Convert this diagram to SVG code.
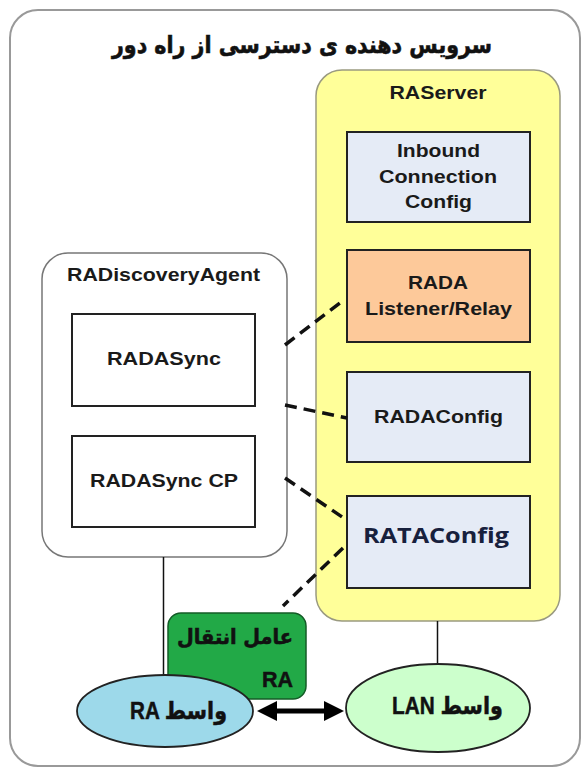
<svg xmlns="http://www.w3.org/2000/svg" width="582" height="769" viewBox="0 0 582 769">
  <style>
    .lbl { font-family: "Liberation Sans", Arial, sans-serif; font-size: 19px; font-weight: bold; fill: #1a1a1a; text-anchor: middle; }
    .fa { font-family: "DejaVu Sans", "Noto Sans", sans-serif; font-weight: bold; fill: #111; stroke: #111; stroke-width: 0.6; }
    .mix { font-family: "Liberation Sans", "DejaVu Sans", sans-serif; font-weight: bold; fill: #111; stroke: #111; stroke-width: 0.5; }
    .box { stroke: #222; stroke-width: 2; }
    .cfg { fill: #e5ebf6; }
    .dash { fill: none; stroke: #111; stroke-width: 3.5; stroke-dasharray: 12 7; }
    .wire { fill: none; stroke: #111; stroke-width: 1.5; }
  </style>
  <defs>
    <marker id="head" viewBox="0 0 20 20" refX="12" refY="10" markerWidth="20" markerHeight="20" markerUnits="userSpaceOnUse" orient="auto-start-reverse">
      <path d="M0,0 L20,10 L0,20 Z" fill="#000"/>
    </marker>
  </defs>

  <!-- outer frame -->
  <g id="frame">
    <rect x="10" y="10" width="570" height="756" rx="28" fill="#fff" stroke="#999" stroke-width="2"/>
    <text class="fa" x="302" y="53" font-size="24" text-anchor="middle" textLength="380" lengthAdjust="spacingAndGlyphs">سرویس دهنده ی دسترسی از راه دور</text>
  </g>

  <!-- server container -->
  <g id="raserver">
    <rect x="316" y="70" width="244" height="551" rx="26" fill="#ffff99" stroke="#9a9a80" stroke-width="1.5"/>
    <text class="lbl" x="438" y="99" textLength="97" lengthAdjust="spacingAndGlyphs">RAServer</text>
  </g>

  <g id="inbound">
    <rect class="box cfg" x="347" y="132" width="183" height="90"/>
    <text class="lbl" x="438.5" y="157" textLength="83" lengthAdjust="spacingAndGlyphs">Inbound</text>
    <text class="lbl" x="438" y="183" textLength="118" lengthAdjust="spacingAndGlyphs">Connection</text>
    <text class="lbl" x="438.5" y="208" textLength="67" lengthAdjust="spacingAndGlyphs">Config</text>
  </g>

  <g id="listener">
    <rect class="box" x="347" y="250" width="183" height="92" fill="#fdc99a"/>
    <text class="lbl" x="438" y="289" textLength="60" lengthAdjust="spacingAndGlyphs">RADA</text>
    <text class="lbl" x="438.5" y="315" textLength="147" lengthAdjust="spacingAndGlyphs">Listener/Relay</text>
  </g>

  <g id="radaconfig">
    <rect class="box cfg" x="347" y="372" width="183" height="90"/>
    <text class="lbl" x="438.5" y="423" textLength="129" lengthAdjust="spacingAndGlyphs">RADAConfig</text>
  </g>

  <g id="rataconfig">
    <rect class="box cfg" x="347" y="496" width="183" height="92"/>
    <text x="436" y="543" font-family="'Open Sans', 'Liberation Sans', sans-serif" font-size="21" font-weight="bold" fill="#17203d" text-anchor="middle" textLength="146" lengthAdjust="spacingAndGlyphs">RATAConfig</text>
  </g>

  <!-- discovery agent container -->
  <g id="discovery">
    <rect x="42" y="253" width="245" height="304" rx="26" fill="#fff" stroke="#777" stroke-width="1.5"/>
    <text class="lbl" x="163.5" y="281" textLength="193" lengthAdjust="spacingAndGlyphs">RADiscoveryAgent</text>
  </g>

  <g id="radasync">
    <rect class="box" x="72" y="314" width="183" height="92" fill="#fff"/>
    <text class="lbl" x="164" y="365" textLength="114" lengthAdjust="spacingAndGlyphs">RADASync</text>
  </g>

  <g id="radasynccp">
    <rect class="box" x="72" y="436" width="183" height="91" fill="#fff"/>
    <text class="lbl" x="164" y="487" textLength="148" lengthAdjust="spacingAndGlyphs">RADASync CP</text>
  </g>

  <!-- connectors -->
  <g id="connectors">
    <line class="dash" x1="285" y1="345" x2="345" y2="299"/>
    <line class="dash" x1="285" y1="405" x2="347" y2="418"/>
    <line class="dash" x1="285" y1="478" x2="345" y2="519"/>
    <line class="dash" x1="343" y1="548" x2="283" y2="606"/>
    <line class="wire" x1="163.5" y1="557" x2="163.5" y2="680"/>
    <line class="wire" x1="437.5" y1="621" x2="437.5" y2="665"/>
  </g>

  <g id="transport">
    <rect x="168" y="613" width="138" height="86" rx="13" fill="#22a947" stroke="#145c27" stroke-width="1.5"/>
    <text class="fa" x="293" y="644" font-size="21" text-anchor="end" textLength="116" lengthAdjust="spacingAndGlyphs">عامل انتقال</text>
    <text class="mix" x="293" y="687" font-size="22" text-anchor="end" textLength="31" lengthAdjust="spacingAndGlyphs">RA</text>
  </g>

  <g id="ra-agent">
    <ellipse cx="165" cy="711" rx="88" ry="36" fill="#9dd9ea" stroke="#222" stroke-width="1.8"/>
    <text class="mix" x="178.5" y="719" font-size="24" text-anchor="middle" textLength="97" lengthAdjust="spacingAndGlyphs">RA واسط</text>
  </g>

  <g id="lan-agent">
    <ellipse cx="438" cy="708" rx="92" ry="44" fill="#ccffcc" stroke="#222" stroke-width="1.8"/>
    <text class="mix" x="447.5" y="714" font-size="24" text-anchor="middle" textLength="111" lengthAdjust="spacingAndGlyphs">LAN واسط</text>
  </g>

  <g id="link">
    <line x1="265" y1="711" x2="336" y2="711" stroke="#000" stroke-width="5" marker-start="url(#head)" marker-end="url(#head)"/>
  </g>
</svg>
